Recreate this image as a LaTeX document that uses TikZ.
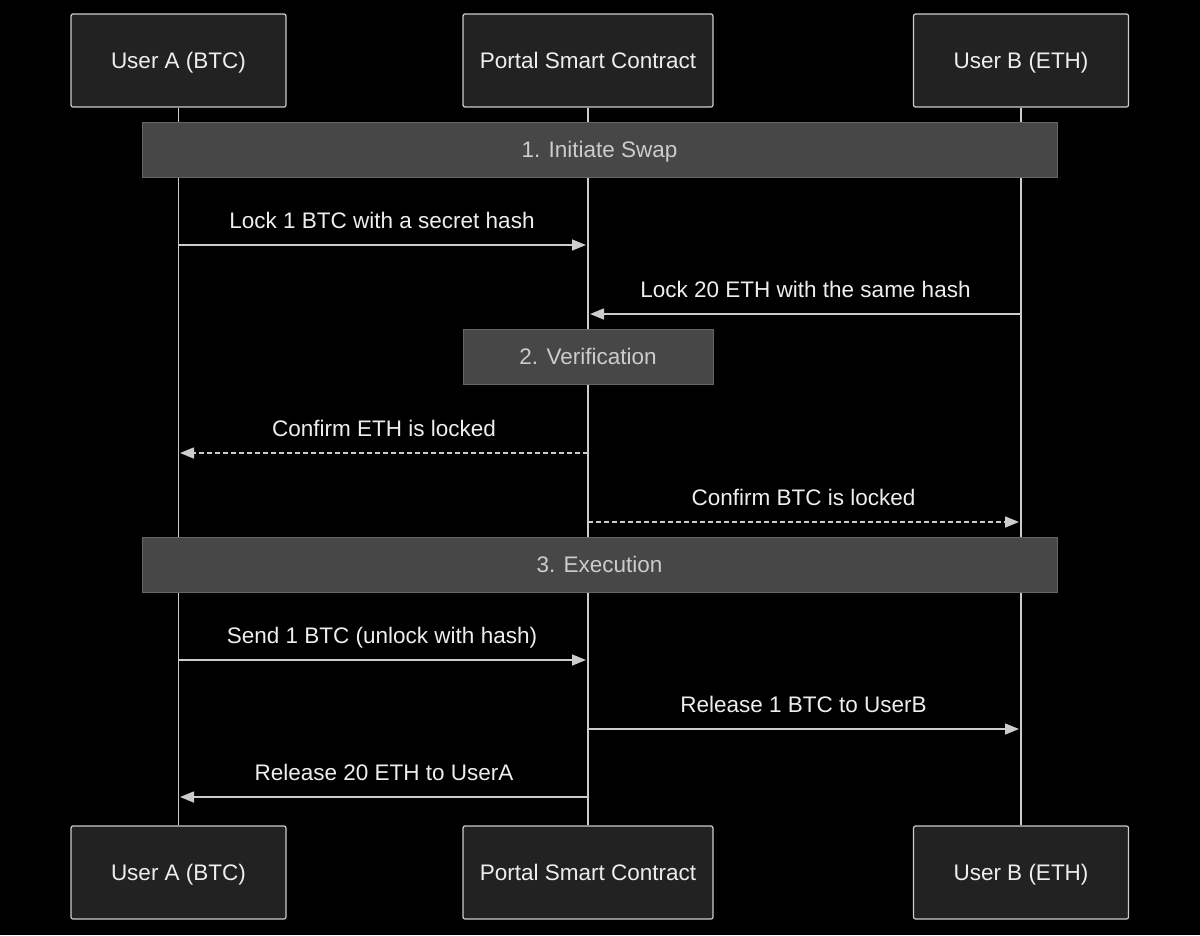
\documentclass[tikz,border=0pt]{standalone}
\usepackage{fontspec}
\setmainfont{Liberation Sans}
\usetikzlibrary{arrows.meta}
\definecolor{boxfill}{HTML}{222222}
\definecolor{boxline}{HTML}{CCCCCC}
\definecolor{notefill}{HTML}{474747}
\definecolor{noteline}{HTML}{666666}
\definecolor{txt}{HTML}{EEEEEE}
\definecolor{notetxt}{HTML}{CCCCCC}
\begin{document}
\begin{tikzpicture}[x=1pt,y=-1pt,
  fnt/.style={font=\fontsize{22.5}{26}\selectfont,text height=18pt,text depth=2pt},
  actor/.style={fnt,draw=boxline,fill=boxfill,line width=1.2pt,rounded corners=2pt,minimum width=215pt,minimum height=93pt,text=txt,inner sep=0pt},
  actorw/.style={actor,minimum width=250pt},
  note/.style={fnt,draw=noteline,fill=notefill,line width=1pt,minimum height=55pt,text=notetxt,inner sep=0pt},
  life/.style={draw=boxline,line width=1.5pt},
  msg/.style={draw=boxline,line width=1.5pt,-{Triangle[length=14pt,width=11pt]}},
  dmsg/.style={msg,dash pattern=on 5pt off 3pt},
  lbl/.style={fnt,text=txt,inner sep=0pt}]
\fill[black] (0,0) rectangle (1200,935);
\useasboundingbox (0,0) rectangle (1200,935);
\node[actor] (a1) at (178.5,60.5) {User A (BTC)};
\node[actorw] (p1) at (588,60.5) {Portal Smart Contract};
\node[actor] (b1) at (1021,60.5) {User B (ETH)};
\node[actor] (a2) at (178.5,872.5) {User A (BTC)};
\node[actorw] (p2) at (588,872.5) {Portal Smart Contract};
\node[actor] (b2) at (1021,872.5) {User B (ETH)};
\draw[life] (a1.south) -- (a2.north);
\draw[life] (p1.south) -- (p2.north);
\draw[life] (b1.south) -- (b2.north);
\node[note,minimum width=915pt] (n1) at (599.5,149.5) {1. Initiate Swap};
\node[note,minimum width=250pt] (n2) at (588,356.5) {2. Verification};
\node[note,minimum width=915pt] (n3) at (599.5,564.5) {3. Execution};
\foreach \y/\f/\t/\s/\l in {
 245/178/586/msg/Lock 1 BTC with a secret hash,
 314/1021/590/msg/Lock 20 ETH with the same hash,
 453/588/180/dmsg/Confirm ETH is locked,
 522/588/1019/dmsg/Confirm BTC is locked,
 660/178/586/msg/Send 1 BTC (unlock with hash),
 729/588/1019/msg/Release 1 BTC to UserB,
 797/588/180/msg/Release 20 ETH to UserA}{
  \coordinate (s) at (\f,\y); \coordinate (e) at (\t,\y);
  \draw[\s] (s) -- (e);
  \node[lbl] at ({(\f+\t)/2},\y-25) {\l};
}
\end{tikzpicture}
\end{document}
